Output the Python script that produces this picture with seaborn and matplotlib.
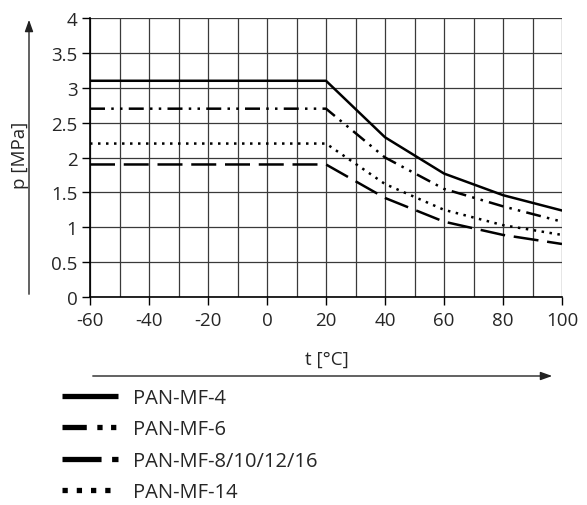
import numpy as np
import pandas as pd
import matplotlib.pyplot as plt
import seaborn as sns
from matplotlib.lines import Line2D
from matplotlib.patches import FancyArrowPatch

temps = [-60, 20, 40, 60, 80, 100]

p_mf4 = [3.1, 3.1, 2.29, 1.77, 1.46, 1.24]
p_mf6 = [2.7, 2.7, 2.0, 1.55, 1.30, 1.08]
p_mf8 = [1.9, 1.9, 1.42, 1.08, 0.89, 0.76]
p_mf14 = [2.2, 2.2, 1.62, 1.25, 1.03, 0.89]

series_names = ["PAN-MF-4", "PAN-MF-6", "PAN-MF-8/10/12/16", "PAN-MF-14"]

x_ticks = [-60, -40, -20, 0, 20, 40, 60, 80, 100]
y_ticks = [0, 0.5, 1, 1.5, 2, 2.5, 3, 3.5, 4]
y_labels = ["0", "0.5", "1", "1.5", "2", "2.5", "3", "3.5", "4"]


def main():
    sns.set_style("white")
    plt.rcParams["font.family"] = ["Open Sans", "DejaVu Sans"]

    df = pd.DataFrame({
        "t": temps * 4,
        "p": p_mf4 + p_mf6 + p_mf8 + p_mf14,
        "series": [n for n in series_names for _ in temps],
    })

    plot_dashes = {
        "PAN-MF-4": "",
        "PAN-MF-6": (6, 2.5, 1, 2.5, 1, 2.5),
        "PAN-MF-8/10/12/16": (10, 3.5),
        "PAN-MF-14": (1, 2.2),
    }

    fig = plt.figure(figsize=(5.87, 5.06), dpi=100)
    ax = fig.add_axes([90 / 587, 1 - 298 / 506, 472 / 587, 279 / 506])

    sns.lineplot(
        data=df,
        x="t",
        y="p",
        style="series",
        dashes=plot_dashes,
        color="black",
        linewidth=1.8,
        legend=False,
        ax=ax,
    )

    ax.set_xlim(-60, 100)
    ax.set_ylim(0, 4)
    ax.set_xticks(x_ticks)
    ax.set_xticks(np.arange(-60, 101, 10), minor=True)
    ax.set_yticks(y_ticks)
    ax.set_yticklabels(y_labels)
    ax.set_xticklabels([str(v) for v in x_ticks])

    ax.grid(True, which="both", color="#3a3a3a", linewidth=0.9)
    ax.tick_params(which="major", direction="out", length=6, width=1,
                   color="black", labelsize=13.5, pad=3,
                   bottom=True, left=True)
    ax.tick_params(axis="x", which="major", pad=4)
    ax.tick_params(which="minor", length=0)

    for side in ["top", "right"]:
        ax.spines[side].set_visible(False)
    for side in ["left", "bottom"]:
        ax.spines[side].set_color("black")
        ax.spines[side].set_linewidth(1.2)

    ax.set_xlabel("")
    ax.set_ylabel("")

    fig.text(20 / 587, 1 - 155 / 506, "p [MPa]", rotation=90,
             ha="center", va="center", fontsize=13.5)
    fig.text(327 / 587, 1 - 360 / 506, "t [°C]",
             ha="center", va="center", fontsize=13.5)

    fig.add_artist(FancyArrowPatch(
        (29 / 587, 1 - 298 / 506), (29 / 587, 1 - 18 / 506),
        transform=fig.transFigure,
        arrowstyle="-|>,head_length=7,head_width=2.5",
        color="#222222", linewidth=1, mutation_scale=1))
    fig.add_artist(FancyArrowPatch(
        (90 / 587, 1 - 377 / 506), (555 / 587, 1 - 377 / 506),
        transform=fig.transFigure,
        arrowstyle="-|>,head_length=7,head_width=2.5",
        color="#222222", linewidth=1, mutation_scale=1))

    legend_dashes = [None, (4.6, 2, 1, 1.6, 1, 2), (7.4, 2), (1, 1.7)]
    handles = []
    for d in legend_dashes:
        if d is None:
            h = Line2D([], [], color="black", linewidth=3.8,
                       solid_capstyle="butt")
        else:
            h = Line2D([], [], color="black", linewidth=3.8,
                       dashes=d, dash_capstyle="butt")
        handles.append(h)

    fig.legend(
        handles,
        series_names,
        loc="upper left",
        bbox_to_anchor=(62 / 587, 1 - 389 / 506),
        frameon=False,
        fontsize=14.5,
        handlelength=2.8,
        handletextpad=0.75,
        labelspacing=0.56,
        borderpad=0,
        borderaxespad=0,
    )

    fig.savefig("out.png", dpi=100)
    plt.close(fig)


if __name__ == "__main__":
    main()
